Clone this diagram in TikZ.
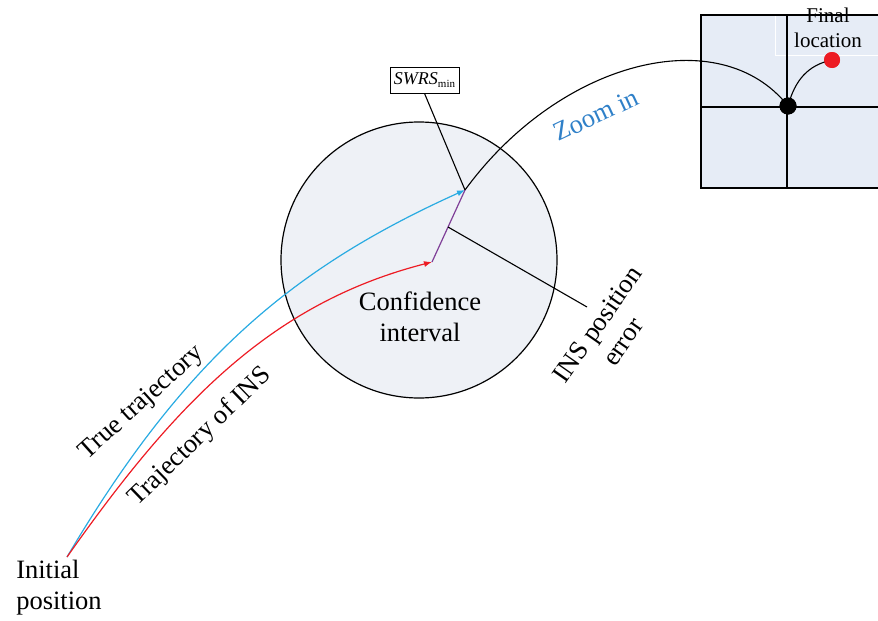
\documentclass[tikz,border=0pt]{standalone}
\usepackage{fontspec}
\setmainfont{Liberation Serif}
\usetikzlibrary{arrows.meta}
\definecolor{trueblue}{HTML}{29ABE2}
\definecolor{insred}{HTML}{ED1C24}
\definecolor{errpurple}{HTML}{7F3F98}
\definecolor{zoomblue}{HTML}{2F80C8}
\definecolor{circfill}{HTML}{EEF1F6}
\definecolor{boxfill}{HTML}{E6ECF6}
\tikzset{
  lbl/.style={font=\fontsize{26.5}{31}\selectfont, inner sep=0pt, align=center},
  smalllbl/.style={font=\fontsize{21}{25}\selectfont, inner sep=0pt, align=center},
  trajarrow/.style={-{Latex[length=8pt,width=6pt]}},
  thinline/.style={line width=1.1pt},
}
\begin{document}
\begin{tikzpicture}[x=1pt,y=-1pt,line width=1.2pt]
\useasboundingbox (0,0) rectangle (878,621);
% confidence circle
\node[circle, draw, fill=circfill, minimum size=276pt, inner sep=0pt] (ci) at (419,260) {};
% zoomed box
\fill[boxfill] (701,15) rectangle (890,188);
\node[smalllbl] (fl) at (828,28) {Final\\location};
\draw[white, line width=0.8pt] (775,15) rectangle (890,55);
\draw (890,15) -- (701,15) -- (701,188) -- (890,188);
\draw (787,15) -- (787,188);
\draw (701,107) -- (890,107);
% key coordinates
\coordinate (ip) at (67,557);
\coordinate (tb) at (465,190);
\coordinate (ir) at (432,262);
\coordinate (em) at (448,227);
\coordinate (ee) at (587,307);
% dots
\node[circle, fill=black, minimum size=17pt, inner sep=0pt] (bd) at (788,106) {};
\node[circle, fill=insred, minimum size=16pt, inner sep=0pt] (rd) at (832,60) {};
% zoom curve
\draw[thinline] (tb) .. controls (560,60) and (720,20) .. (bd.center);
\draw[thinline] (bd.center) .. controls (795,80) and (808,65) .. (rd.center);
\node[circle, fill=black, minimum size=17pt, inner sep=0pt] at (bd) {};
\node[circle, fill=insred, minimum size=16pt, inner sep=0pt] at (rd) {};
% trajectories
\draw[trueblue, trajarrow] (ip) .. controls (184,359) and (292,268) .. (tb);
\draw[insred, trajarrow] (ip) .. controls (176,402) and (272,303) .. (ir);
\draw[errpurple] (ir) -- (tb);
\draw[thinline] (em) -- (ee);
% SWRS box
\node[draw, line width=0.8pt, inner sep=0pt, minimum width=69pt, minimum height=26pt] (sw) at (424.5,80)
  {{\fontsize{18}{20}\selectfont\itshape SWRS}\raisebox{-3pt}{\fontsize{11}{12}\selectfont min}};
\draw[thinline] (sw.south) -- (tb);
% labels
\node[lbl] (cf) at (420,317) {Confidence\\interval};
\node[lbl, rotate=55] (ie) at (610,333) {INS position\\error};
\node[lbl, rotate=42] (tt) at (142,403) {True trajectory};
\node[lbl, rotate=44] (ti) at (200,437) {Trajectory of INS};
\node[lbl, align=left] (ipl) at (59,588) {Initial\\position};
\node[lbl, text=zoomblue, rotate=25] (zi) at (596,115) {Zoom in};
\end{tikzpicture}
\end{document}
